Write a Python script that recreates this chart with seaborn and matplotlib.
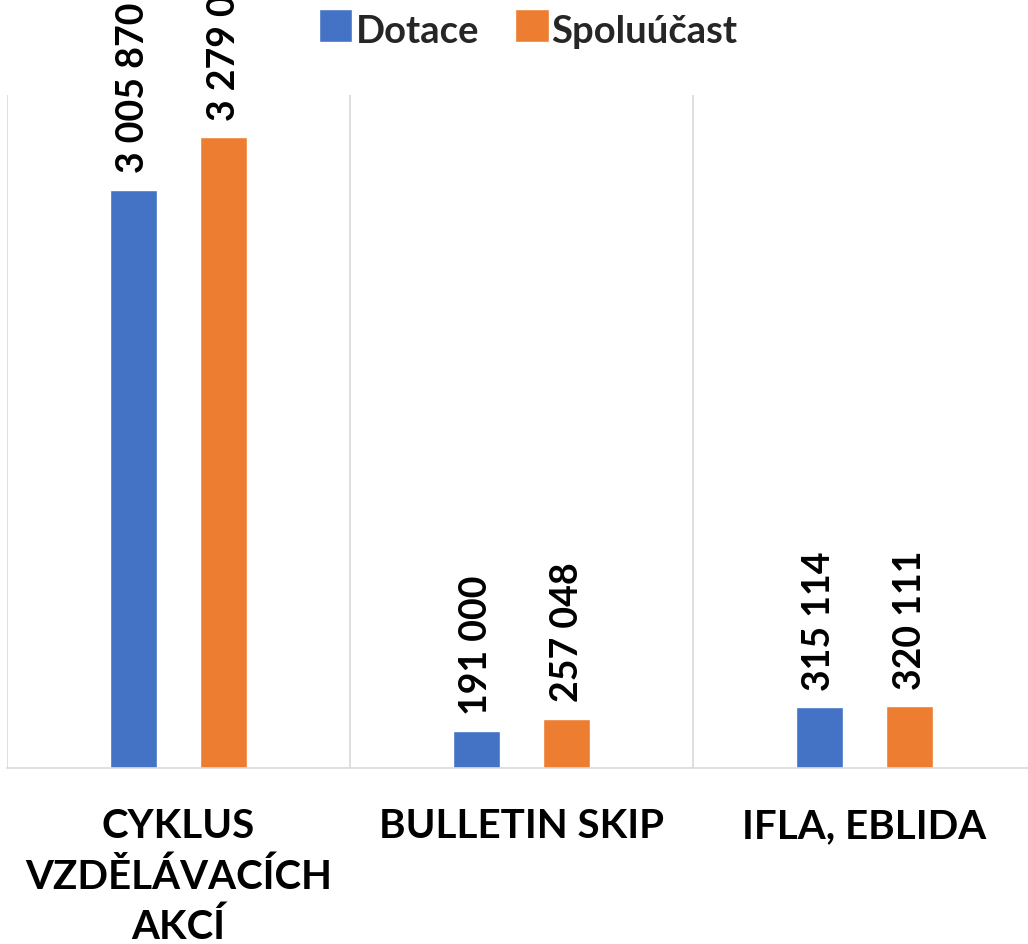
import matplotlib
matplotlib.use("Agg")
import matplotlib.pyplot as plt
import seaborn as sns
import pandas as pd

categories = ["CYKLUS\nVZDĚLÁVACÍCH\nAKCÍ", "BULLETIN SKIP", "IFLA, EBLIDA"]
series_names = ["Dotace", "Spoluúčast"]
dotace = [3005870, 191000, 315114]
spoluucast = [3279000, 257048, 320111]
colors = ["#4472C4", "#ED7D31"]

sns.set_theme(style="white")
plt.rcParams["font.family"] = ["Lato", "DejaVu Sans"]

df = pd.DataFrame({
    "kategorie": categories * 2,
    "serie": [series_names[0]] * 3 + [series_names[1]] * 3,
    "hodnota": dotace + spoluucast,
})

fig = plt.figure(figsize=(10.28, 9.44), dpi=100)
ax = fig.add_axes([0.0068, 0.1864, 1.0010, 0.7130])

sns.barplot(data=df, x="kategorie", y="hodnota", hue="serie", palette=colors,
            width=0.525, gap=0.478, ax=ax, legend=True, saturation=1)

ax.set_xlim(-0.5, 2.5)
ax.set_ylim(0, 3500000)
ax.set_xlabel("")
ax.set_ylabel("")
ax.set_yticks([])

for b in [-0.5, 0.5, 1.5, 2.5]:
    ax.axvline(b, color="#D9D9D9", lw=1.2, zorder=0)

for s in ["top", "left", "right"]:
    ax.spines[s].set_visible(False)
ax.spines["bottom"].set_color("#D9D9D9")
ax.spines["bottom"].set_linewidth(1.2)

ax.tick_params(axis="x", length=0, pad=29)
for lbl in ax.get_xticklabels():
    lbl.set_fontsize(29)
    lbl.set_fontweight("bold")
    lbl.set_color("black")
    lbl.set_linespacing(1.42)
    lbl.set_multialignment("center")

for cont in ax.containers:
    ax.bar_label(cont, labels=[f"{v:,.0f}".replace(",", " ") for v in cont.datavalues],
                 rotation=90, padding=12, fontsize=27, fontweight="bold",
                 color="black", clip_on=False)

leg = ax.legend(loc="center", bbox_to_anchor=(0.514, 0.966),
                bbox_transform=fig.transFigure, ncol=2, frameon=False,
                prop={"size": 27.5, "weight": "bold"}, handlelength=0.65,
                handleheight=0.65, handletextpad=0.3, columnspacing=0.95)
for h in leg.legend_handles:
    h.set_width(24)
    h.set_height(24)

fig.savefig("out.png", dpi=100)
